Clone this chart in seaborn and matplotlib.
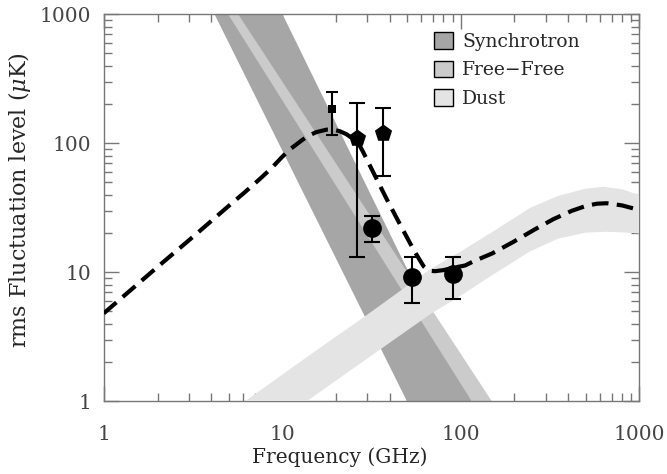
import numpy as np
import pandas as pd
import matplotlib
matplotlib.use("Agg")
import matplotlib.pyplot as plt
from matplotlib.patches import Patch
from matplotlib.ticker import FixedLocator, NullFormatter
import seaborn as sns

# ---------------------------
# Data
# ---------------------------
# Foreground bands: edge frequencies (GHz) where each band crosses 1000 uK and 1 uK
band_temps = [1000, 1]
sync_lo = [4.16, 49.8]
sync_hi = [10.0, 115]
ff_lo = [4.96, 115]
ff_hi = [5.65, 149]

# Dust band (lower and upper edge)
dust_lo_freq = [13.7, 30, 67, 100, 150, 244, 350, 500, 650, 800, 1000]
dust_lo_temp = [1.0, 2.15, 4.7, 6.6, 9.5, 14.5, 18.2, 20.3, 20.6, 20.4, 20.0]
dust_hi_freq = [6.18, 15, 30, 67, 100, 150, 244, 350, 500, 630, 800, 1000]
dust_hi_temp = [1.0, 2.4, 4.7, 10.5, 14.5, 20.5, 31.5, 39, 44.5, 46, 44, 39.7]

# Total foreground model (dashed)
model_freq = [1, 2, 3.17, 5, 6.2, 7.5, 8.7, 10, 11, 12, 13.7, 15.5, 17.7, 19.3,
              21, 22.9, 24.5, 26.2, 27.3, 28.5, 31, 34, 38.5, 45.6, 52, 56, 59,
              62, 65, 68, 72, 80, 90, 106, 117, 150, 197, 260, 330, 420, 507,
              580, 657, 800, 1000]
model_temp = [4.81, 11.0, 18.9, 32.6, 42.0, 53.0, 64.1, 78.6, 89.4, 98, 112.5,
              122, 127.5, 127.5, 124, 117.5, 110, 103, 94.6, 84.6, 67, 51.9,
              36.8, 23.6, 16.8, 14.0, 12.4, 11.1, 10.5, 10.25, 10.2, 10.4, 10.8,
              11.3, 12.1, 14.0, 17.2, 21.5, 25.8, 30.0, 32.8, 34.0, 34.3, 33.0,
              30.4]

# Measurements
sq_freq, sq_temp, sq_lo, sq_hi = [19.0], [184], [116], [250]
pent_freq = [26.2, 36.7]
pent_temp = [110, 120]
pent_lo = [13.1, 55.8]
pent_hi = [205, 188]
circ_freq = [31.8, 53.1, 90.8]
circ_temp = [22.1, 9.25, 9.7]
circ_lo = [17.2, 5.75, 6.24]
circ_hi = [27.4, 13.2, 13.1]

sync_color = "#a6a6a6"
ff_color = "#cbcbcb"
dust_color = "#e4e4e4"

sns.set_style("ticks")
plt.rcParams["font.family"] = ["DejaVu Serif"]
plt.rcParams["mathtext.fontset"] = "dejavuserif"

fig = plt.figure(figsize=(6.67, 4.74), dpi=100)
ax = fig.add_axes([0.1556, 0.1534, 0.8028, 0.8165])
ax.set_xscale("log")
ax.set_yscale("log")

# Bands
ax.fill_betweenx(band_temps, sync_lo, sync_hi, color=sync_color, lw=0, zorder=1)
ax.fill_betweenx(band_temps, ff_lo, ff_hi, color=ff_color, lw=0, zorder=2)
dust_poly_x = dust_lo_freq + dust_hi_freq[::-1]
dust_poly_y = dust_lo_temp + dust_hi_temp[::-1]
ax.fill(dust_poly_x, dust_poly_y, color=dust_color, lw=0, zorder=3)

# Model curve
model = pd.DataFrame({"freq": model_freq, "temp": model_temp})
sns.lineplot(data=model, x="freq", y="temp", ax=ax, color="black", lw=3,
             linestyle=(0, (4, 2)), zorder=4)


def draw_points(freq, temp, lo, hi, marker, size, cap):
    yerr = [np.array(temp) - np.array(lo), np.array(hi) - np.array(temp)]
    ax.errorbar(freq, temp, yerr=yerr, fmt="none", ecolor="black",
                elinewidth=1.5, capsize=cap, capthick=1.5, zorder=5)
    pts = pd.DataFrame({"freq": freq, "temp": temp})
    sns.scatterplot(data=pts, x="freq", y="temp", ax=ax, marker=marker,
                    s=size ** 2, color="black", edgecolor="black",
                    linewidth=0, zorder=6)


draw_points(sq_freq, sq_temp, sq_lo, sq_hi, "s", 6, 4.2)
draw_points(pent_freq, pent_temp, pent_lo, pent_hi, "p", 13, 6)
draw_points(circ_freq, circ_temp, circ_lo, circ_hi, "o", 13.5, 6)

ax.set_xlim(1, 1000)
ax.set_ylim(1, 1000)

major = [1, 10, 100, 1000]
minor = [m * d for d in [1, 10, 100] for m in range(2, 10)]
for axis in (ax.xaxis, ax.yaxis):
    axis.set_major_locator(FixedLocator(major))
    axis.set_minor_locator(FixedLocator(minor))
    axis.set_minor_formatter(NullFormatter())
ax.set_xticklabels(["1", "10", "100", "1000"])
ax.set_yticklabels(["1", "10", "100", "1000"])
ax.tick_params(which="both", direction="in", top=True, right=True,
               color="#777777", width=1)
ax.tick_params(which="major", length=11, labelsize=14.5, labelcolor="#444444")
ax.tick_params(axis="x", which="major", pad=17)
ax.tick_params(axis="y", which="major", pad=9)
ax.tick_params(which="minor", length=5.5)
for sp in ax.spines.values():
    sp.set_color("#777777")
    sp.set_linewidth(1)

ax.set_xlabel("Frequency (GHz)", fontsize=14.5)
ax.xaxis.set_label_coords(0.441, -0.12)
ax.set_ylabel(r"rms Fluctuation level ($\mu$K)", fontsize=16)
ax.yaxis.set_label_coords(-0.132, 0.52)

handles = [Patch(facecolor=sync_color, edgecolor="black", lw=1),
           Patch(facecolor=ff_color, edgecolor="black", lw=1),
           Patch(facecolor=dust_color, edgecolor="black", lw=1)]
ax.legend(handles, ["Synchrotron", "Free\u2212Free", "Dust"], loc="upper right",
          frameon=False, fontsize=13.5, handlelength=1.0, handleheight=1.0,
          handletextpad=0.5, labelspacing=0.5, borderaxespad=0.3,
          bbox_to_anchor=(0.914, 0.987))

fig.savefig("out.png", dpi=100)
